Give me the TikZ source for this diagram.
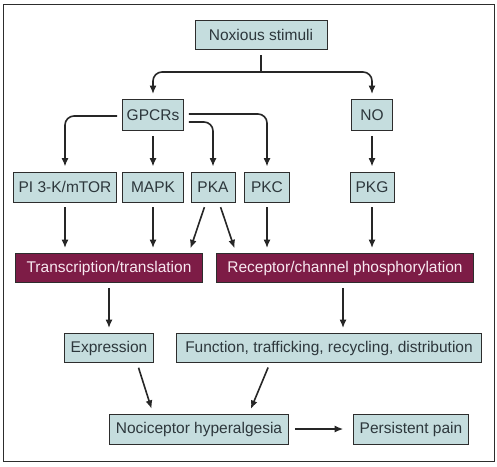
\documentclass[tikz,border=0pt]{standalone}
\usepackage{fontspec}
\setmainfont{Liberation Sans}
\usepackage{xcolor}
\usepackage{tikz}
\usetikzlibrary{
  arrows.meta,
  calc
}
\definecolor{boxfill}{RGB}{197,221,222}
\definecolor{boxline}{RGB}{45,45,45}
\definecolor{boxtext}{RGB}{45,55,60}
\definecolor{maroon}{RGB}{125,28,70}
\definecolor{pinktext}{RGB}{248,232,240}
\tikzset{
  box/.style={
    draw=boxline,
    fill=boxfill,
    text=boxtext,
    line width=0.8pt,
    inner sep=0pt,
    minimum height=29pt,
    font=\fontsize{15.5}{18}\selectfont},
  hot/.style={
    box,
    fill=maroon,
    text=pinktext},
  arr/.style={
    -{Latex[length=8.5pt,width=7pt]},
    line width=1.6pt,
    draw=black!85,
    shorten <=5pt,
    shorten >=5pt}
  }

\begin{document}
\begin{tikzpicture}[x=1pt,y=-1pt]
    \useasboundingbox (0,0) rectangle (497,466);
    \draw [boxline, line width=1pt] (3,4) rectangle (494,461);
    \node[box, minimum width=132pt] (stim) at (261,35) {Noxious stimuli};
    \node[box, minimum width=61pt, minimum height=31pt] (gpcr) at (153,115) {GPCRs};
    \node[box, minimum width=41pt, minimum height=31pt] (no) at (372,115) {NO};
    \node[box, minimum width=103pt, minimum height=30pt] (pik) at (65,187) {PI 3-K/mTOR};
    \node[box, minimum width=61pt, minimum height=30pt] (mapk) at (153,187) {MAPK};
    \node[box, minimum width=44pt, minimum height=30pt] (pka) at (213,187) {PKA};
    \node[box, minimum width=45pt, minimum height=30pt] (pkc) at (267,187) {PKC};
    \node[box, minimum width=44pt, minimum height=30pt] (pkg) at (372,187) {PKG};
    \node[hot, minimum width=187pt] (trans) at (109,268) {Transcription/translation};
    \node[hot, minimum width=257pt] (recep) at (345,268) {Receptor/channel phosphorylation};
    \node[box, minimum width=89pt] (expr) at (109,348) {Expression};
    \node[box, minimum width=305pt] (func) at (329,348) {Function, trafficking, recycling, distribution};
    \node[box, minimum width=179pt, minimum height=30pt] (hyp) at (199,429) {Nociceptor hyperalgesia};
    \node[box, minimum width=115pt, minimum height=30pt] (pain) at (411,429) {Persistent pain};
    \coordinate (split) at (261,72);
    % branching lines
    \draw [arr, -, shorten >=0pt] (stim) -- (split);
    \draw [arr, shorten <=0pt, rounded corners=9pt] (split) -| (gpcr);
    \draw [arr, shorten <=0pt, rounded corners=9pt] (split) -| (no);
    \draw [arr, rounded corners=9pt] ([yshift=-1pt]gpcr.west) -| (pik);
    \draw [arr, rounded corners=9pt] ([yshift=1pt]gpcr.east) -| (pkc);
    \draw [arr, rounded corners=9pt] ([yshift=-7pt]gpcr.east) -| (pka);
    % straight arrows
    \draw [arr] (gpcr) -- (mapk);
    \draw [arr] (no) -- (pkg);
    \draw [arr] (pik) -- (pik.south |- trans.north);
    \draw [arr] (mapk) -- (mapk.south |- trans.north);
    \draw [arr] ([xshift=-7pt]pka.south) -- ([xshift=-14pt]trans.north east);
    \draw [arr] ([xshift=6pt]pka.south) -- ([xshift=20pt]recep.north west);
    \draw [arr] (pkc) -- (pkc.south |- recep.north);
    \draw [arr] (pkg) -- (pkg.south |- recep.north);
    \draw [arr] (trans) -- (expr);
    \draw [arr] ([xshift=-2pt]recep.south) -- ([xshift=-2pt]recep.south |- func.north);
    \draw [arr] ([xshift=28pt]expr.south) -- ([xshift=44pt]hyp.north west);
    \draw [arr] ([xshift=-59pt]func.south) -- ([xshift=-40pt]hyp.north east);
    \draw [arr, shorten <=6pt, shorten >=10pt, line width=1.2pt] (hyp) -- (pain);
\end{tikzpicture}
\end{document}
